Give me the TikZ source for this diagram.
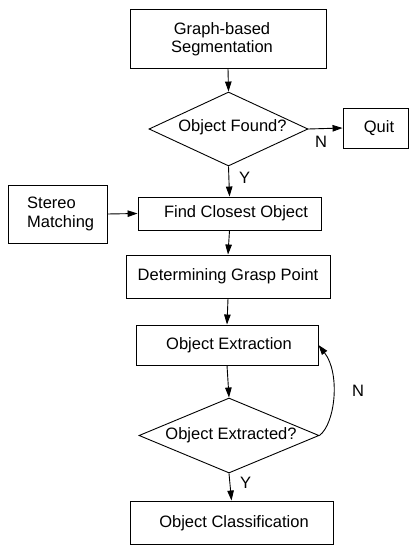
\documentclass[tikz,border=0pt]{standalone}
\usepackage{fontspec}
\setmainfont{Liberation Sans}
\usetikzlibrary{shapes.geometric,arrows.meta}
\begin{document}
\begin{tikzpicture}[x=1pt,y=-1pt,
  every node/.style={font=\fontsize{16.5}{18.5}\selectfont},
  box/.style={draw=black, line width=0.9pt, inner sep=0pt, rectangle},
  dia/.style={draw=black, line width=0.9pt, inner sep=0pt, diamond},
  txt/.style={inner sep=0pt},
  arr/.style={line width=0.9pt, -{Triangle[length=10pt,width=6.5pt]}},
  lbl/.style={inner sep=0pt}
]
\useasboundingbox (0,0) rectangle (409,545);
% shapes
\node[box, minimum width=196pt, minimum height=59pt] (gb) at (228,38.5) {};
\node[dia, minimum width=159pt, minimum height=74pt] (d1) at (228.5,129) {};
\node[box, minimum width=65pt, minimum height=40pt] (quit) at (375.5,128) {};
\node[box, minimum width=99pt, minimum height=58pt] (stereo) at (57.5,214) {};
\node[box, minimum width=183pt, minimum height=33pt] (find) at (229.5,213.5) {};
\node[box, minimum width=204pt, minimum height=43pt] (det) at (228,276.5) {};
\node[box, minimum width=182pt, minimum height=40pt] (ext) at (227,345) {};
\node[dia, minimum width=180pt, minimum height=75pt] (d2) at (229,435.5) {};
\node[box, minimum width=203pt, minimum height=43pt] (cls) at (231.5,522.5) {};
% texts
\node[txt, align=center] (tgb) at (222,39) {Graph-based\\Segmentation};
\node[txt] (td1) at (232.5,127.5) {Object Found?};
\node[txt] (tquit) at (379,128) {Quit};
\node[txt, align=left, anchor=west] (tstereo) at (27,214) {Stereo\\Matching};
\node[txt] (tfind) at (236,213.5) {Find Closest Object};
\node[txt] (tdet) at (228,276.5) {Determining Grasp Point};
\node[txt] (text) at (229,345) {Object Extraction};
\node[txt] (td2) at (231,435) {Object Extracted?};
\node[txt] (tcls) at (234,523.5) {Object Classification};
% labels
\node[lbl] (n1) at (321,142) {N};
\node[lbl] (y1) at (244.5,177.5) {Y};
\node[lbl] (n2) at (358,391) {N};
\node[lbl] (y2) at (245.5,482.5) {Y};
% connectors
\draw[arr] (gb.south) -- (d1.north);
\draw[arr] (d1.east) -- (quit.west);
\draw[arr] (d1.south) -- (find.north);
\draw[arr] (stereo.east) -- (find.west);
\draw[arr] (find.south) -- (det.north);
\draw[arr] (det.south) -- (ext.north);
\draw[arr] (ext.south) -- (d2.north);
\draw[arr] (d2.south) -- (cls.north);
\draw[arr] (d2.east) .. controls +(16,-12) and +(22,28) .. (ext.east);
\end{tikzpicture}
\end{document}
